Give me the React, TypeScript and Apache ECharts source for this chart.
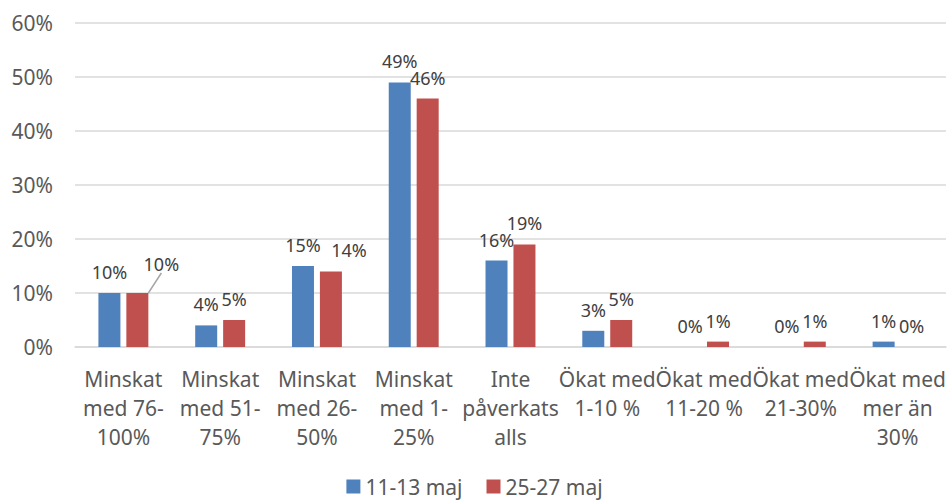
import React, { useEffect, useRef } from "react";
import * as echarts from "echarts";

const categories = [
  "Minskat\nmed 76-\n100%",
  "Minskat\nmed 51-\n75%",
  "Minskat\nmed 26-\n50%",
  "Minskat\nmed 1-\n25%",
  "Inte\npåverkats\nalls",
  "Ökat med\n1-10 %",
  "Ökat med\n11-20 %",
  "Ökat med\n21-30%",
  "Ökat med\nmer än\n30%",
];
const seriesNames = ["11-13 maj", "25-27 maj"];
const valuesMay11 = [10, 4, 15, 49, 16, 3, 0, 0, 1];
const valuesMay25 = [10, 5, 14, 46, 19, 5, 1, 1, 0];
const yTicks = [0, 10, 20, 30, 40, 50, 60];

const FONT = "'Noto Sans', 'Open Sans', sans-serif";

export default function App() {
  const ref = useRef<HTMLDivElement>(null);
  useEffect(() => {
    document.body.style.margin = "0";
    const chart = echarts.init(ref.current!, undefined, { renderer: "svg" });
    const labelStyle = {
      show: true,
      position: "top" as const,
      distance: 12,
      color: "#404040",
      fontSize: 18,
      fontFamily: FONT,
      formatter: (p: any) => p.value + "%",
    };
    chart.setOption({
      animation: false,
      textStyle: { fontFamily: FONT },
      grid: { left: 75, right: 3, top: 23, bottom: 153 },
      legend: {
        top: 476,
        left: "center",
        padding: 0,
        itemWidth: 14,
        itemHeight: 14,
        itemGap: 24,
        icon: "rect",
        textStyle: { fontSize: 21, color: "#595959", fontFamily: FONT, lineHeight: 21 },
        data: seriesNames,
      },
      xAxis: {
        type: "category",
        data: categories,
        axisTick: { show: false },
        axisLine: { lineStyle: { color: "#D9D9D9", width: 1.5 } },
        axisLabel: {
          interval: 0,
          margin: 17,
          fontSize: 21,
          lineHeight: 29,
          color: "#595959",
          fontFamily: FONT,
        },
      },
      yAxis: {
        type: "value",
        min: yTicks[0],
        max: yTicks[yTicks.length - 1],
        interval: 10,
        axisLine: { show: false },
        axisTick: { show: false },
        splitLine: { lineStyle: { color: "#D9D9D9", width: 1.5 } },
        axisLabel: {
          formatter: "{value}%",
          margin: 22,
          fontSize: 21,
          color: "#595959",
          fontFamily: FONT,
        },
      },
      series: [
        {
          name: seriesNames[0],
          type: "bar",
          barWidth: 22,
          barGap: "27%",
          itemStyle: { color: "#4F81BD" },
          label: labelStyle,
          data: valuesMay11,
        },
        {
          name: seriesNames[1],
          type: "bar",
          barWidth: 22,
          barGap: "27%",
          itemStyle: { color: "#C0504D" },
          label: labelStyle,
          labelLine: { show: false },
          labelLayout: (p: any) => {
            if (p.dataIndex === 0) return { dx: 24, dy: -8 };
            if (p.dataIndex === 2) return { dx: 18, dy: 0 };
            return {};
          },
          data: valuesMay25.map((v, i) =>
            i === 0
              ? { value: v, labelLine: { show: true, lineStyle: { color: "#A6A6A6", width: 1.5 } } }
              : v
          ),
        },
      ],
    });
    return () => chart.dispose();
  }, []);
  return <div ref={ref} style={{ width: 949, height: 500 }} />;
}
